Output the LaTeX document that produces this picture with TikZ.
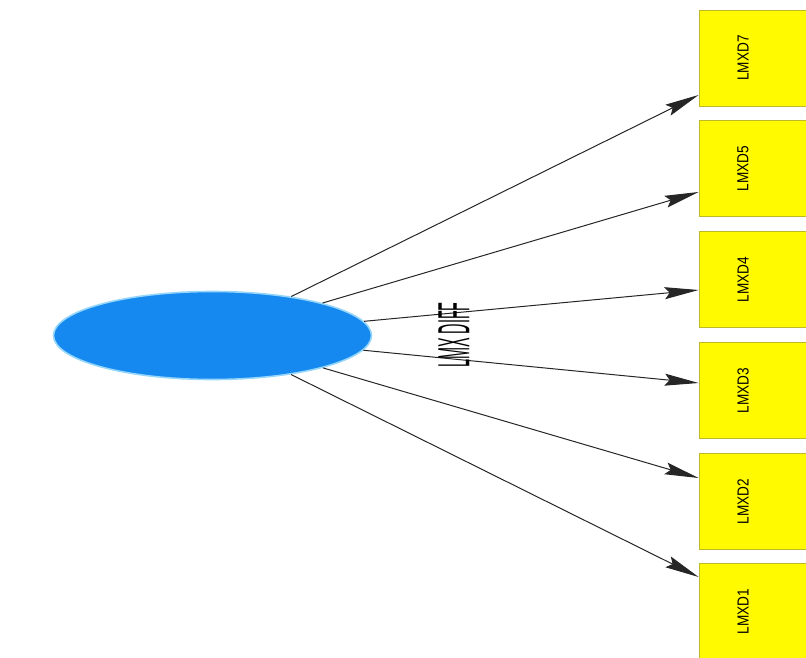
\documentclass[tikz,border=0pt]{standalone}
\usepackage{fontspec}
\setmainfont{Liberation Sans}
\usepackage{tikz}
\usetikzlibrary{shapes,arrows.meta,calc,positioning}

\definecolor{hubblue}{RGB}{21,137,240}
\definecolor{hubrim}{RGB}{150,214,250}
\definecolor{boxyellow}{RGB}{255,250,0}
\definecolor{boxrim}{RGB}{190,185,40}

\begin{document}
\begin{tikzpicture}[x=1pt,y=-1pt,
        hub/.style={ellipse,fill=hubblue,draw=hubrim,line width=1.6pt,minimum width=318pt,minimum height=88pt,inner sep=0},
        leaf/.style={rectangle,fill=boxyellow,draw=boxrim,line width=0.8pt,minimum width=120pt,minimum height=96pt,inner sep=0,font=\fontsize{16}{16}\selectfont},
        link/.style={draw=black!85,line width=1pt,-{Stealth[length=34pt,width=12pt,inset=5pt]}}]
        \useasboundingbox (0,0) rectangle (806,658);
        \clip (0,0) rectangle (806,658);
        % the blue hub
        \node[hub] (src) at (212.5,335.5) {};
        % the yellow boxes on the right
        \node[leaf] (d7) at (759,58)    {\rotatebox{90}{\scalebox{0.85}[1]{LMXD7}}\rule{32pt}{0pt}};
        \node[leaf] (d5) at (759,168.5) {\rotatebox{90}{\scalebox{0.85}[1]{LMXD5}}\rule{32pt}{0pt}};
        \node[leaf] (d4) at (759,279.5) {\rotatebox{90}{\scalebox{0.85}[1]{LMXD4}}\rule{32pt}{0pt}};
        \node[leaf] (d3) at (759,390.5) {\rotatebox{90}{\scalebox{0.85}[1]{LMXD3}}\rule{32pt}{0pt}};
        \node[leaf] (d2) at (759,501.5) {\rotatebox{90}{\scalebox{0.85}[1]{LMXD2}}\rule{32pt}{0pt}};
        \node[leaf] (d1) at (759,611.5) {\rotatebox{90}{\scalebox{0.85}[1]{LMXD1}}\rule{32pt}{0pt}};
        % connectors
        \draw[link] (src) -- ([yshift=-37pt]d7.west);
        \draw[link] (src) -- ([yshift=-23.5pt]d5.west);
        \draw[link] (src) -- ([yshift=-10.5pt]d4.west);
        \draw[link] (src) -- ([yshift=7.5pt]d3.west);
        \draw[link] (src) -- ([yshift=23.5pt]d2.west);
        \draw[link] (src) -- ([yshift=34.5pt]d1.west);
        % edge label
        \node[inner sep=0] (diff) at (454,335) {\rotatebox{90}{\scalebox{0.32}[1]{\fontsize{45}{45}\selectfont LMX DIFF}}};
\end{tikzpicture}
\end{document}
